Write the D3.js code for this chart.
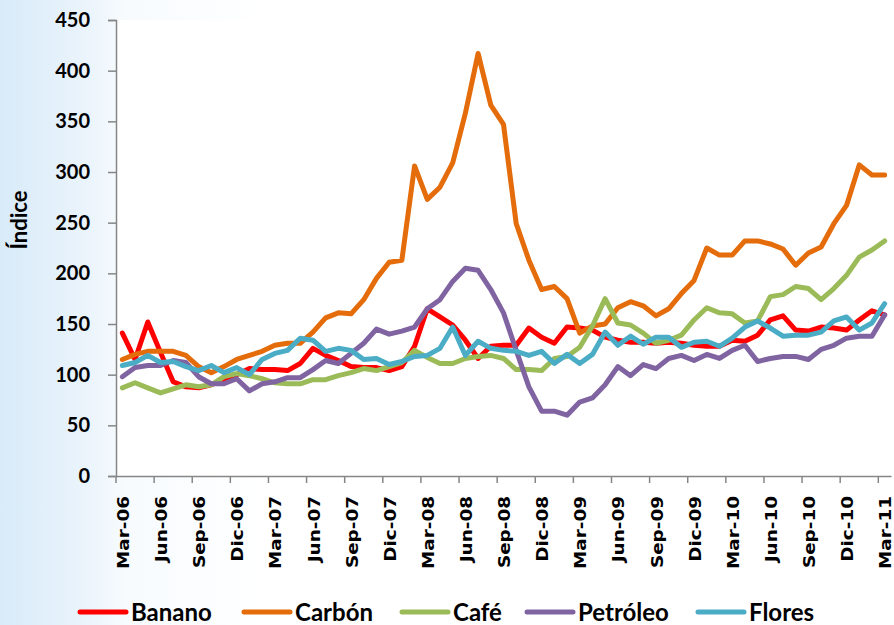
<!DOCTYPE html>
<html>
<head>
<meta charset="utf-8">
<script src="https://cdn.jsdelivr.net/npm/d3@7"></script>
<style>
  html, body { margin: 0; padding: 0; background: #ffffff; }
  svg { display: block; }
</style>
</head>
<body>
<svg id="chart" width="894" height="625"></svg>
<script>
// ---- Data ----
const categories = [
  "Mar-06","Abr-06","May-06","Jun-06","Jul-06","Ago-06","Sep-06","Oct-06","Nov-06","Dic-06",
  "Ene-07","Feb-07","Mar-07","Abr-07","May-07","Jun-07","Jul-07","Ago-07","Sep-07","Oct-07",
  "Nov-07","Dic-07","Ene-08","Feb-08","Mar-08","Abr-08","May-08","Jun-08","Jul-08","Ago-08",
  "Sep-08","Oct-08","Nov-08","Dic-08","Ene-09","Feb-09","Mar-09","Abr-09","May-09","Jun-09",
  "Jul-09","Ago-09","Sep-09","Oct-09","Nov-09","Dic-09","Ene-10","Feb-10","Mar-10","Abr-10",
  "May-10","Jun-10","Jul-10","Ago-10","Sep-10","Oct-10","Nov-10","Dic-10","Ene-11","Feb-11",
  "Mar-11"
];

const banano = [141,115,152,122,93,88,87,90,95,100,106,105,105,104,111,126,119,114,108,107,
  107,104,108,128,165,157,149,134,116,128,129,129,146,137,131,147,146,144,137,134,
  132,132,131,132,131,129,128,128,134,133,139,154,158,144,143,147,146,144,154,163,159];

const carbon = [115,120,123,123,123,119,108,102,108,115,119,123,129,131,131,142,156,161,160,174,
  195,211,213,306,273,285,309,358,417,366,347,249,213,184,187,175,141,148,150,166,
  172,168,158,165,180,193,225,218,218,232,232,229,224,208,220,226,249,267,307,297,297];

const cafe = [87,92,87,82,86,90,88,90,98,101,99,96,92,91,91,95,95,99,102,106,
  104,108,112,124,117,111,111,116,118,119,116,105,105,104,116,118,127,148,175,151,
  149,141,131,134,139,154,166,161,160,151,153,177,179,187,185,174,185,198,216,223,232];

const petroleo = [98,107,109,109,114,112,98,91,91,96,84,91,93,97,97,105,114,111,121,131,
  145,140,143,147,165,174,192,205,203,184,161,124,88,64,64,60,73,77,90,108,
  99,110,106,116,119,114,120,116,124,129,113,116,118,118,115,125,129,136,138,138,159];

const flores = [109,112,119,112,113,108,104,109,102,107,100,115,121,124,136,134,123,126,124,115,
  116,110,113,118,119,126,147,119,133,126,124,123,119,123,111,120,111,120,142,129,
  138,130,137,137,127,132,133,128,136,147,153,146,138,139,139,142,153,157,144,151,170];

const seriesNames = ["Banano","Carbón","Café","Petróleo","Flores"];
const seriesColors = ["#FF0000","#E46C0A","#9BBB59","#8064A2","#4BACC6"];
const seriesValues = [banano, carbon, cafe, petroleo, flores];
const yTicks = [0,50,100,150,200,250,300,350,400,450];
const yTitle = "Índice";

// ---- Layout ----
const W = 894, H = 625;
const plot = {left: 116, right: 891, top: 20, bottom: 476};
const svg = d3.select("#chart");

// background
const defs = svg.append("defs");
const grad = defs.append("linearGradient").attr("id","bg").attr("x1","0").attr("x2","1").attr("y1","0").attr("y2","0");
grad.append("stop").attr("offset","0%").attr("stop-color","#d8ebf9");
grad.append("stop").attr("offset","9%").attr("stop-color","#e9f3fb");
grad.append("stop").attr("offset","14%").attr("stop-color","#f7fbfe");
grad.append("stop").attr("offset","30%").attr("stop-color","#ffffff");
svg.append("rect").attr("width",W).attr("height",H).attr("fill","url(#bg)");
svg.append("rect").attr("x",plot.left).attr("y",plot.top)
  .attr("width",plot.right-plot.left).attr("height",plot.bottom-plot.top).attr("fill","#ffffff");

// scales
const x = d3.scaleBand().domain(d3.range(categories.length)).range([plot.left, plot.right]).padding(0);
const bw = x.bandwidth();
const y = d3.scaleLinear().domain([0,450]).range([plot.bottom, plot.top]);

// y axis
const yAxis = d3.axisLeft(y).tickValues(yTicks).tickSize(8).tickPadding(18).tickFormat(d3.format("d"));
const gy = svg.append("g").attr("transform",`translate(${plot.left},0)`).call(yAxis);
gy.select(".domain").attr("stroke","#868686").attr("stroke-width",1.5);
gy.selectAll(".tick line").attr("stroke","#868686").attr("stroke-width",1.5);
gy.selectAll(".tick text").attr("font-family","Lato, 'Open Sans', sans-serif").attr("font-weight","bold")
  .attr("font-size",20).attr("fill","#000");

// x axis
const labelIdx = d3.range(categories.length).filter(i => i % 3 === 0);
const xAxis = d3.axisBottom(x).tickValues(labelIdx).tickSize(7).tickSizeOuter(0)
  .tickFormat(i => categories[i]);
const gx = svg.append("g").attr("transform",`translate(0,${plot.bottom})`).call(xAxis);
gx.select(".domain").attr("stroke","#868686").attr("stroke-width",1.5);
gx.selectAll(".tick line").attr("stroke","#868686").attr("stroke-width",1.5)
  .attr("x1",-bw/2).attr("x2",-bw/2);
const xs = 1.15;
gx.selectAll(".tick text")
  .attr("font-family","'DejaVu Sans', Verdana, sans-serif").attr("font-weight","bold")
  .attr("font-size",16).attr("fill","#000")
  .attr("text-anchor","end")
  .attr("transform",`rotate(-90) scale(${xs},1)`)
  .attr("x",-20/xs).attr("y",1).attr("dy","0.35em");

// y title
svg.append("text").attr("transform",`translate(27,220) rotate(-90)`)
  .attr("text-anchor","middle").attr("font-family","Lato, 'Open Sans', sans-serif")
  .attr("font-weight","bold").attr("font-size",22).attr("fill","#000").text(yTitle);

// lines
const line = d3.line().x((d,i) => x(i) + bw/2).y(d => y(d)).curve(d3.curveLinear);
seriesValues.forEach((vals, k) => {
  svg.append("path").datum(vals).attr("d", line)
    .attr("fill","none").attr("stroke",seriesColors[k]).attr("stroke-width",5)
    .attr("stroke-linejoin","round").attr("stroke-linecap","round");
});

// legend
const legendX = [80, 244, 402, 527, 698];
const lg = svg.append("g");
seriesNames.forEach((name, k) => {
  const g = lg.append("g").attr("transform",`translate(${legendX[k]},612)`);
  g.append("line").attr("x1",0).attr("x2",46).attr("y1",0).attr("y2",0)
    .attr("stroke",seriesColors[k]).attr("stroke-width",5).attr("stroke-linecap","round");
  g.append("text").attr("x",51).attr("y",0).attr("dy","0.36em")
    .attr("font-family","Lato, 'Open Sans', sans-serif").attr("font-weight","bold")
    .attr("font-size",24).attr("fill","#000").text(name);
});
</script>
</body>
</html>
